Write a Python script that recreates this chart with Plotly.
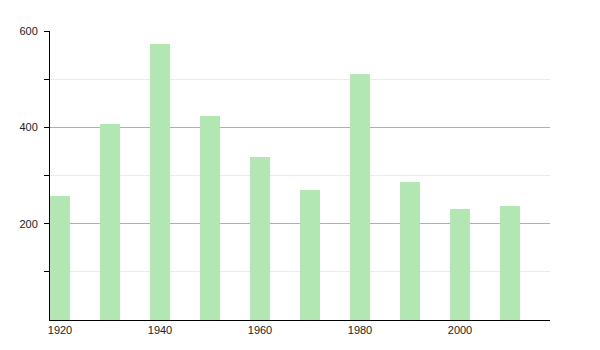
import plotly.graph_objects as go

years = [1920, 1930, 1940, 1950, 1960, 1970, 1980, 1990, 2000, 2010]
values = [257, 407, 574, 424, 338, 270, 511, 286, 230, 237]
x_tickvals = [1920, 1940, 1960, 1980, 2000]
y_tickvals = [200, 400, 600]

fig = go.Figure()
fig.add_trace(go.Bar(
    x=years, y=values, width=4,
    marker=dict(color="rgb(178,230,178)", line=dict(width=0)),
))

fig.update_layout(
    width=600, height=350,
    margin=dict(l=50, r=50, t=31, b=30),
    paper_bgcolor="white", plot_bgcolor="white",
    showlegend=False,
    font=dict(family="Liberation Sans, Arial, sans-serif", size=11, color="#222"),
    xaxis=dict(
        range=[1918, 2018], tickvals=x_tickvals, showgrid=False,
        showline=True, linecolor="black", linewidth=1,
        ticks="", zeroline=False, ticklabelstandoff=0,
    ),
    yaxis=dict(
        range=[0, 600], tickvals=y_tickvals, showgrid=True,
        gridcolor="#b0b0b0", gridwidth=1,
        showline=True, linecolor="black", linewidth=1,
        ticks="outside", ticklen=5, tickcolor="black",
        zeroline=False, ticklabelstandoff=4,
        minor=dict(tickvals=[100, 300, 500], ticks="outside", ticklen=5,
                   tickcolor="black", showgrid=True, gridcolor="#ebebeb"),
    ),
    bargap=0,
)

fig.write_html("out.html")
